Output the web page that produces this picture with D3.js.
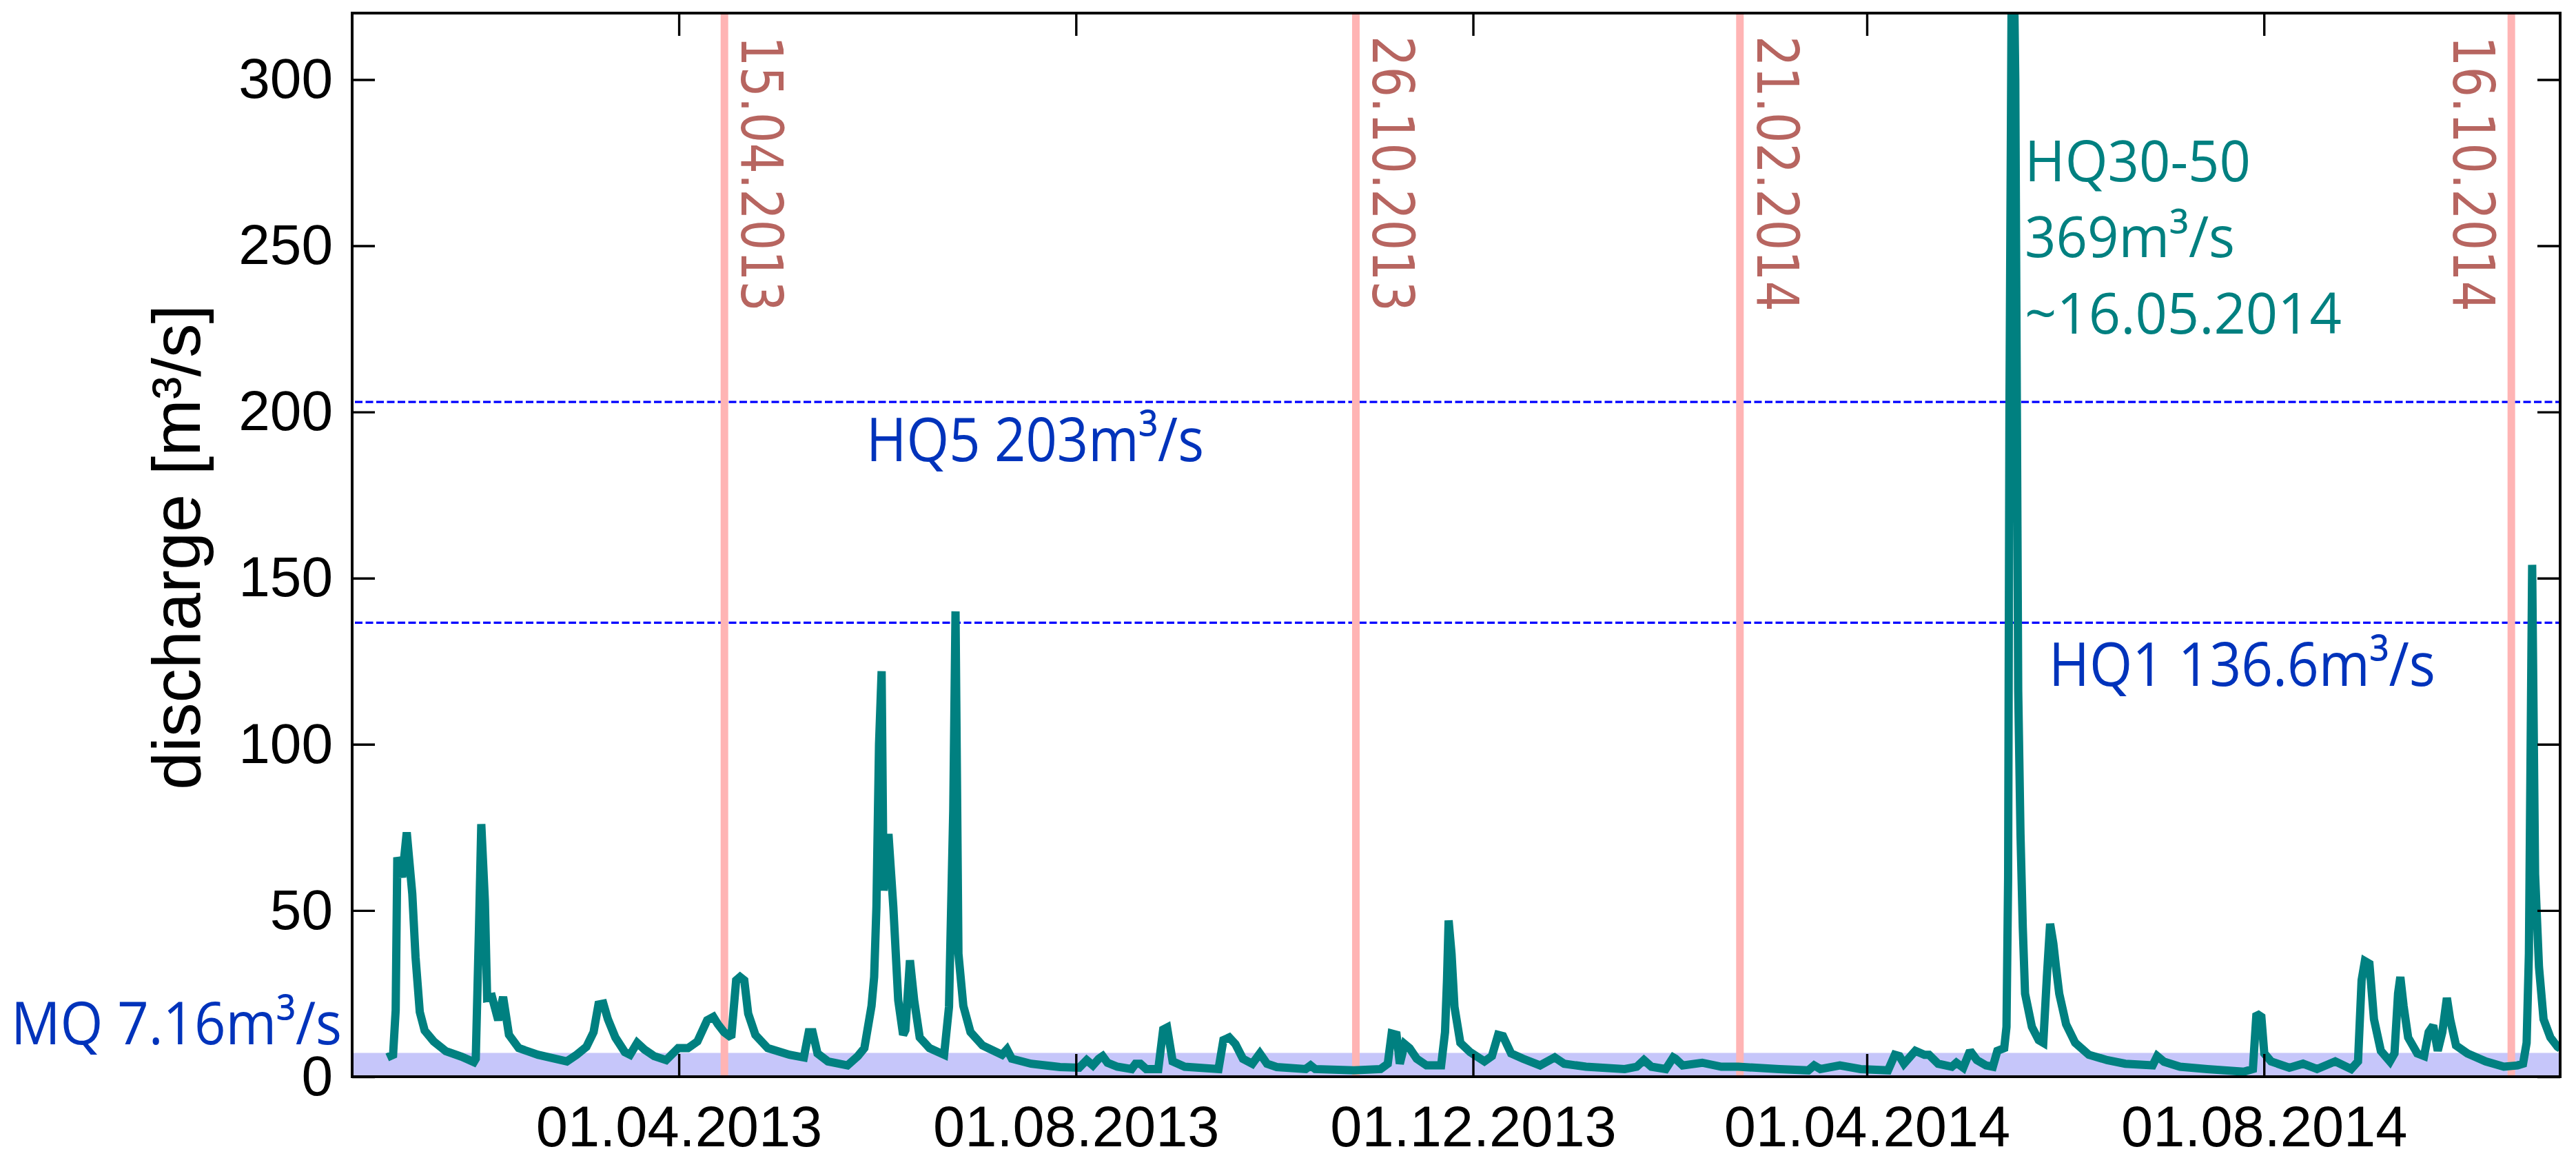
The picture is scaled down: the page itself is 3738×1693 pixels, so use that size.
<!DOCTYPE html>
<html><head><meta charset="utf-8">
<script src="https://cdn.jsdelivr.net/npm/d3@7"></script>
<style>html,body{margin:0;padding:0;background:#fff}svg{display:block}</style>
</head><body>
<svg id="c" width="3738" height="1693"></svg>
<script>
// ---------------- data ----------------
// days since 01.01.2013 (UTC) and discharge in m3/s
const days = [0.4,2.2,3.0,3.5,5.0,6.4,8.1,9.1,10.4,11.9,14.7,18.4,23.3,27.0,27.6,28.6,29.3,30.4,31.1,32.6,34.5,36.0,37.8,40.8,46.7,55.6,58.6,61.6,63.8,65.3,66.8,68.2,70.5,73.4,75.0,77.2,79.4,82.4,86.1,89.8,92.8,95.7,98.7,100.6,102.0,103.9,106.1,107.6,108.8,110.1,111.3,113.5,117.3,124.0,128.4,129.9,131.1,132.6,135.8,141.8,145.0,147.0,149.2,150.0,150.7,151.5,152.3,152.9,154.4,155.9,157.4,158.9,159.6,161.0,162.3,164.0,167.0,171.5,173.0,174.3,175.0,175.9,177.4,179.6,183.3,189.3,190.8,192.3,198.2,207.1,213.0,215.3,217.2,219.0,220.2,221.7,224.7,229.1,230.3,231.8,233.6,237.3,238.8,240.0,241.7,245.4,255.8,257.3,259.1,261.0,263.3,266.2,268.5,270.7,273.7,282.6,284.1,285.5,297.4,305.6,307.8,309.0,310.5,311.5,313.0,314.5,316.7,319.7,324.2,325.4,326.0,326.5,327.4,328.3,330.1,333.1,337.5,339.8,341.7,343.2,345.7,349.4,354.6,359.1,362.0,368.7,380.6,384.3,386.5,388.8,393.2,395.5,396.2,398.4,404.4,410.3,415.5,428.1,437.0,438.8,440.7,446.7,453.1,461.5,463.6,465.0,466.4,469.9,472.7,474.1,476.9,481.1,482.5,484.6,486.7,488.8,491.6,493.7,495.1,497.2,497.9,498.4,498.8,499.7,500.6,501.5,502.2,502.9,503.6,505.7,507.8,509.2,510.3,511.3,512.3,513.1,514.1,516.2,519.0,523.2,528.8,534.4,542.8,544.2,546.3,551.2,559.6,570.8,573.6,574.7,576.2,577.1,579.2,584.8,589.0,593.3,598.9,603.8,605.9,607.0,608.0,609.4,610.8,612.9,615.7,617.1,618.2,618.9,619.9,621.3,624.1,626.2,627.6,629.0,630.4,631.8,633.2,634.2,636.0,639.5,645.1,650.7,654.9,656.6,657.7,658.4,659.4,660.3,661.5,662.9,665.0,667.2,668.0];
const discharge = [5.8,6.6,20,66,60,73.5,55,36,19.5,13.9,10.6,7.7,6,4.4,5.4,45,76,53,23.7,24,17,24,12.6,8.6,6.6,4.6,6.6,9,13.4,21.7,22,17.3,11.8,7.4,6.6,10.2,8.2,6.2,5,8.6,8.6,10.6,17,18,15.8,13.4,11.8,29,30,29,19,12.6,8.6,6.6,5.8,13.4,13.4,7,4.6,3.4,6.2,8.6,21.3,30,51,100,122,56,73,51,23,12.6,14,35,23,11.8,8.6,6.6,21,80,140,37,21.3,13.4,9.4,6.6,8.2,5.4,3.9,2.9,2.7,5,3.4,5.4,6.2,4.2,3,2.3,3.9,3.9,2.3,2.3,14.2,14.8,4.6,3,2.3,11,11.8,9.8,5.4,3.9,7,3.9,2.9,2.3,3.4,2.3,1.9,2.3,3.9,13,12.6,3.9,9.8,8.6,5.4,3.4,3.4,13.4,29,47,37,21,10.2,7.4,4.6,6.2,12.6,12.2,7,5.4,3.4,5.8,3.9,3,2.3,3,5,3,2.3,5.8,5.4,3.4,4.2,3,3,2.3,1.9,3.4,2.3,3.4,2.3,1.9,6.6,6.2,3.9,7.8,6.6,6.6,3.9,3,4.2,2.7,7.8,5,3.4,3,7.8,8.6,15,60,200,369,300,116,73,45,25,15,11,10.2,30,46,40,33,25,15.8,10.2,6.6,5,3.9,3.4,6.2,4.5,3,2.3,1.5,2.3,19,18,7,4.6,2.7,3.9,2.3,4.6,2.3,4.6,29,34.8,34,17.3,7.8,4.6,7,25,30,21.3,11.8,7,6.2,13.4,15.4,7.8,13.4,23.7,17.3,9.4,7,4.6,3,3.4,3.9,10.2,37,154,61,33,17.3,11.8,9,8.5];

const xDomain = ["2012-12-21T15:00:00Z", "2014-10-31T00:00:00Z"];
const xTickDates = ["2013-04-01","2013-08-01","2013-12-01","2014-04-01","2014-08-01"];
const yDomain = [0, 320];
const yTicks = [0, 50, 100, 150, 200, 250, 300];

const eventDates  = ["2013-04-15","2013-10-26","2014-02-21","2014-10-16"];
const eventLabels = ["15.04.2013","26.10.2013","21.02.2014","16.10.2014"];
const eventSide   = ["right","right","right","left"];

const MQ = 7.16, HQ1 = 136.6, HQ5 = 203;
const mqLabel = "MQ 7.16m³/s", hq1Label = "HQ1 136.6m³/s", hq5Label = "HQ5 203m³/s";
const peakLabel = ["HQ30-50", "369m³/s", "~16.05.2014"];
const yTitle = "discharge [m³/s]";

// ---------------- layout ----------------
const P = {left:511, right:3715, top:19, bottom:1562};
const svg = d3.select("#c");
const base = Date.UTC(2013,0,1);
const toDate = d => new Date(base + d*864e5);

const x = d3.scaleUtc().domain(xDomain.map(s=>new Date(s))).range([P.left,P.right]);
const y = d3.scaleLinear().domain(yDomain).range([P.bottom,P.top]);

svg.append("defs").append("clipPath").attr("id","clip")
  .append("rect").attr("x",P.left).attr("y",P.top).attr("width",P.right-P.left).attr("height",P.bottom-P.top);

// MQ band
svg.append("rect").attr("x",P.left).attr("y",y(MQ)).attr("width",P.right-P.left)
  .attr("height",y(0)-y(MQ)).attr("fill","#c6c6fa");

// HQ dashed lines
[HQ5,HQ1].forEach(v=>{
  svg.append("line").attr("x1",P.left+4).attr("x2",P.right-2).attr("y1",y(v)).attr("y2",y(v))
    .attr("stroke","#0000ff").attr("stroke-width",3.3).attr("stroke-dasharray","11 4.5");
});

// event lines
const evG = svg.append("g");
eventDates.forEach((d,i)=>{
  const xx = x(new Date(d+"T00:00:00Z"));
  evG.append("line").attr("x1",xx).attr("x2",xx).attr("y1",P.top).attr("y2",P.bottom)
    .attr("stroke","#ffb4b4").attr("stroke-width",11);
  const tx = eventSide[i]==="right" ? xx+25 : xx-84;
  evG.append("text").attr("transform",`translate(${tx},52) rotate(90)`)
    .attr("font-family","DejaVu Sans").attr("font-size",84).attr("fill","#b76560")
    .attr("textLength",400).attr("lengthAdjust","spacingAndGlyphs")
    .text(eventLabels[i]);
});

// discharge line
const pts = days.map((d,i)=>[toDate(d), discharge[i]]);
svg.append("path").datum(pts).attr("clip-path","url(#clip)")
  .attr("fill","none").attr("stroke","#008080").attr("stroke-width",12)
  .attr("stroke-linejoin","miter").attr("stroke-miterlimit",2)
  .attr("d", d3.line().x(p=>x(p[0])).y(p=>y(p[1])));

// axes
const xt = xTickDates.map(s=>new Date(s+"T00:00:00Z"));
const fmt = d3.utcFormat("%d.%m.%Y");
const axB = svg.append("g").attr("transform",`translate(0,${P.bottom})`)
  .call(d3.axisBottom(x).tickValues(xt).tickFormat(fmt).tickSize(-33).tickPadding(42));
const axT = svg.append("g").attr("transform",`translate(0,${P.top})`)
  .call(d3.axisTop(x).tickValues(xt).tickFormat("").tickSize(-33));
const axL = svg.append("g").attr("transform",`translate(${P.left},0)`)
  .call(d3.axisLeft(y).tickValues(yTicks).tickSize(-33).tickPadding(28));
const axR = svg.append("g").attr("transform",`translate(${P.right},0)`)
  .call(d3.axisRight(y).tickValues(yTicks).tickFormat("").tickSize(-33));
[axB,axT,axL,axR].forEach(g=>{
  g.select(".domain").remove();
  g.selectAll(".tick line").attr("stroke","#000").attr("stroke-width",3.4);
  g.selectAll("text").attr("font-family","Liberation Sans, Arial, sans-serif").attr("fill","#000");
});
axB.selectAll("text").attr("font-size",83);
axL.selectAll("text").attr("font-size",82);

// frame
svg.append("rect").attr("x",P.left).attr("y",P.top).attr("width",P.right-P.left).attr("height",P.bottom-P.top)
  .attr("fill","none").attr("stroke","#000").attr("stroke-width",4);

// y title
svg.append("text").attr("transform",`translate(290,794) rotate(-90)`)
  .attr("text-anchor","middle").attr("font-family","Liberation Sans, Arial, sans-serif")
  .attr("font-size",99).attr("fill","#000").text(yTitle);

// blue labels
const blue = "#0033bb";
function lab(t,xx,yy,len,size,col){
  return svg.append("text").attr("x",xx).attr("y",yy).attr("font-family","Open Sans")
    .attr("font-size",size).attr("fill",col).attr("textLength",len).attr("lengthAdjust","spacingAndGlyphs").text(t);
}
lab(mqLabel,16,1515,480,86,blue);
lab(hq5Label,1257,669,490,88,blue);
lab(hq1Label,2973,995,561,88,blue);

// peak label
const teal = "#008080";
lab(peakLabel[0],2938,263,328,82,teal);
lab(peakLabel[1],2938,373,305,82,teal);
lab(peakLabel[2],2938,484,460,82,teal);
</script>
</body></html>
